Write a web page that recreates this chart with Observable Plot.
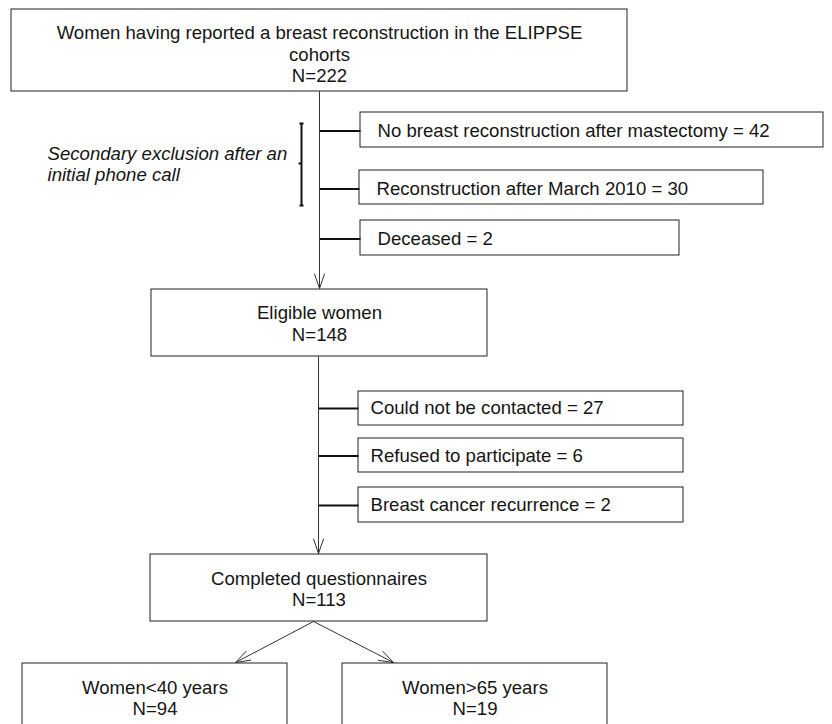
<!DOCTYPE html>
<html><head><meta charset="utf-8">
<script src="https://cdn.jsdelivr.net/npm/d3@7"></script>
<script src="https://cdn.jsdelivr.net/npm/@observablehq/plot@0.6"></script>
<style>html,body{margin:0;padding:0;background:#fff;overflow:hidden}</style>
</head><body><div id="chart"></div>
<script>
// ---- data ----
const mainSteps = ["Women having reported a breast reconstruction in the ELIPPSE cohorts", "Eligible women", "Completed questionnaires"];
const mainCounts = [222, 148, 113];
const firstExclusions = ["No breast reconstruction after mastectomy", "Reconstruction after March 2010", "Deceased"];
const firstExclusionCounts = [42, 30, 2];
const secondExclusions = ["Could not be contacted", "Refused to participate", "Breast cancer recurrence"];
const secondExclusionCounts = [27, 6, 2];
const ageGroups = ["Women<40 years", "Women>65 years"];
const ageGroupCounts = [94, 19];
const bracketNote = "Secondary exclusion after an initial phone call";

// ---- layout (pixel frame) ----
const mainBoxes = [
  {x1: 11, x2: 627, y1: 9, y2: 91, ty: 53},
  {x1: 151, x2: 487, y1: 289, y2: 356, ty: 322.5},
  {x1: 150, x2: 487, y1: 554, y2: 621, ty: 588}
];
const ex1Boxes = [
  {x1: 360, x2: 823, y1: 112, y2: 147, cy: 130.5},
  {x1: 359, x2: 763, y1: 170, y2: 204, cy: 188.5},
  {x1: 360, x2: 679, y1: 220, y2: 255, cy: 238.5}
];
const ex2Boxes = [
  {x1: 358, x2: 683, y1: 391, y2: 425, cy: 408},
  {x1: 358, x2: 683, y1: 438, y2: 472, cy: 455.5},
  {x1: 358, x2: 683, y1: 487, y2: 522, cy: 505}
];
const groupBoxes = [
  {x1: 22, x2: 287, y1: 663, y2: 740, ty: 697},
  {x1: 342, x2: 607, y1: 663, y2: 740, ty: 697}
];

const main = mainSteps.map((s, i) => ({...mainBoxes[i], label: `${s}\nN=${mainCounts[i]}`, cx: (mainBoxes[i].x1 + mainBoxes[i].x2) / 2}));
const groups = ageGroups.map((s, i) => ({...groupBoxes[i], label: `${s}\nN=${ageGroupCounts[i]}`, cx: (groupBoxes[i].x1 + groupBoxes[i].x2) / 2}));
const ex1 = firstExclusions.map((s, i) => ({...ex1Boxes[i], label: `${s} = ${firstExclusionCounts[i]}`, tx: ex1Boxes[i].x1 + 17, lx: 319}));
const ex2 = secondExclusions.map((s, i) => ({...ex2Boxes[i], label: `${s} = ${secondExclusionCounts[i]}`, tx: ex2Boxes[i].x1 + 12, lx: 318}));
const exAll = [...ex1, ...ex2];

const flows = [
  {x1: 319, y1: 91, x2: 319, y2: 288},
  {x1: 318, y1: 356, x2: 318, y2: 553},
  {x1: 313, y1: 621, x2: 235, y2: 662},
  {x1: 313, y1: 621, x2: 393, y2: 662}
];
const bracket = [
  {x1: 301, y1: 123, x2: 301, y2: 205},
  {x1: 299, y1: 123, x2: 303, y2: 123},
  {x1: 299, y1: 205, x2: 303, y2: 205},
  {x1: 298, y1: 163, x2: 301, y2: 163}
];

const font = "'Liberation Sans', Arial, Helvetica, sans-serif";
const fs = 18.6;
const ink = "#151515";

const chart = Plot.plot({
  width: 832, height: 724,
  margin: 0,
  x: {domain: [0, 832], range: [0, 832], axis: null},
  y: {domain: [0, 724], range: [0, 724], axis: null},
  style: {fontFamily: font, background: "#fff"},
  marks: [
    Plot.rect([...main, ...groups, ...exAll], {x1: "x1", x2: "x2", y1: "y1", y2: "y2", fill: "white", stroke: "#222", strokeWidth: 1}),
    Plot.link(exAll, {x1: "lx", x2: "x1", y1: "cy", y2: "cy", stroke: "#111", strokeWidth: 2}),
    Plot.arrow(flows, {x1: "x1", y1: "y1", x2: "x2", y2: "y2", stroke: "#333", strokeWidth: 1, headAngle: 38, headLength: 23}),
    Plot.link(bracket, {x1: "x1", y1: "y1", x2: "x2", y2: "y2", stroke: "#111", strokeWidth: 2}),
    Plot.text(main, {x: "cx", y: "ty", text: "label", fontSize: fs, fill: ink, textAnchor: "middle", lineWidth: 32, lineHeight: 1.18}),
    Plot.text(groups, {x: "cx", y: "ty", text: "label", fontSize: fs, fill: ink, textAnchor: "middle", lineHeight: 1.14}),
    Plot.text(exAll, {x: "tx", y: "cy", text: "label", fontSize: fs, fill: ink, textAnchor: "start"}),
    Plot.text([bracketNote], {x: () => 47, y: () => 163.5, text: d => d, fontSize: fs, fontStyle: "italic", fill: ink, textAnchor: "start", lineWidth: 15, lineHeight: 1.14})
  ]
});
document.getElementById("chart").appendChild(chart);
</script>
</body></html>
